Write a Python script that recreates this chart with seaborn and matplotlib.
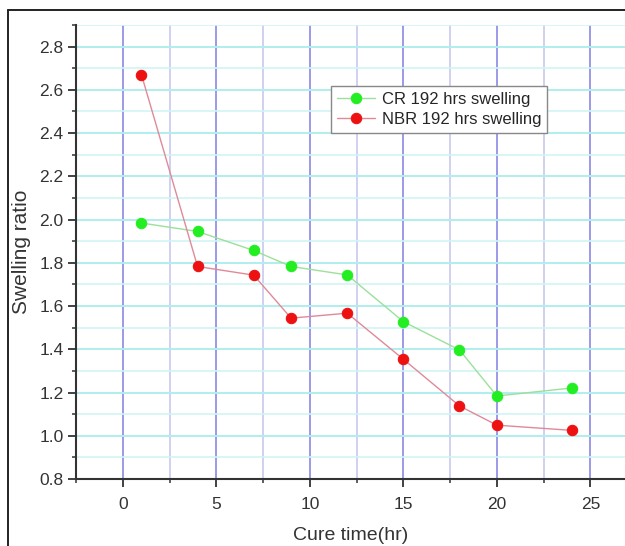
"""Swelling ratio vs cure time for CR and NBR after 192 hrs."""

import matplotlib

matplotlib.use("Agg")

import matplotlib.pyplot as plt
from matplotlib.lines import Line2D
from matplotlib.ticker import MultipleLocator
import pandas as pd
import seaborn as sns

cure_cr = [1, 4, 7, 9, 12, 15, 18, 20, 24]
swell_cr = [1.984, 1.945, 1.857, 1.783, 1.744, 1.528, 1.397, 1.184, 1.221]

cure_nbr = [1, 4, 7, 9, 12, 15, 18, 20, 24]
swell_nbr = [2.67, 1.783, 1.743, 1.544, 1.567, 1.354, 1.138, 1.049, 1.025]

label_cr = "CR 192 hrs swelling"
label_nbr = "NBR 192 hrs swelling"

df_cr = pd.DataFrame({"t": cure_cr, "s": swell_cr})
df_nbr = pd.DataFrame({"t": cure_nbr, "s": swell_nbr})

sns.set_theme(style="white")
plt.rcParams["font.family"] = ["Liberation Sans", "DejaVu Sans"]

fig = plt.figure(figsize=(6.25, 5.46), dpi=100)
ax = fig.add_axes([76 / 625, 67 / 546, 549 / 625, 454 / 546])

# notebook-paper style grid
ax.xaxis.set_major_locator(MultipleLocator(5))
ax.xaxis.set_minor_locator(MultipleLocator(2.5))
ax.yaxis.set_major_locator(MultipleLocator(0.2))
ax.yaxis.set_minor_locator(MultipleLocator(0.1))
ax.grid(which="major", axis="y", color="#b0eeee", linewidth=1.4)
ax.grid(which="minor", axis="y", color="#d2f5f5", linewidth=1.2)
ax.grid(which="major", axis="x", color="#9a9ae8", linewidth=1.4)
ax.grid(which="minor", axis="x", color="#c8c8f0", linewidth=1.2)
ax.set_axisbelow(True)

sns.lineplot(data=df_cr, x="t", y="s", ax=ax, color="#9be09b", linewidth=1.0,
             marker="o", markersize=7.5, markerfacecolor="#22ee22",
             markeredgecolor="#22ee22", label=label_cr)
sns.lineplot(data=df_nbr, x="t", y="s", ax=ax, color="#e08a98", linewidth=1.0,
             marker="o", markersize=7.5, markerfacecolor="#ee1111",
             markeredgecolor="#ee1111", label=label_nbr)

ax.set_xlim(-2.5, 26.85)
ax.set_ylim(0.8, 2.9)
ax.set_xlabel("Cure time(hr)", fontsize=14, color="#333333", labelpad=11)
ax.set_ylabel("Swelling ratio", fontsize=15, color="#333333", labelpad=6)

for side in ["top", "right"]:
    ax.spines[side].set_visible(False)
for side in ["left", "bottom"]:
    ax.spines[side].set_color("#333333")
    ax.spines[side].set_linewidth(1.5)

ax.tick_params(which="major", direction="out", length=6, width=1.3,
               color="#333333", labelsize=12.5, labelcolor="#333333",
               left=True, bottom=True)
ax.tick_params(which="minor", direction="out", length=3, width=1.1,
               color="#333333", left=True, bottom=True)
ax.tick_params(axis="x", which="major", pad=7)
ax.tick_params(axis="y", which="major", pad=3)

leg = ax.legend(loc="upper left", bbox_to_anchor=(0.4645, 0.8656),
                borderaxespad=0, fontsize=12, frameon=True, fancybox=False,
                framealpha=1, edgecolor="#888888", handlelength=2.3,
                handletextpad=0.4, borderpad=0.35, labelspacing=0.3)
leg.get_frame().set_linewidth(1.0)

# outer picture frame
fig.add_artist(Line2D([8 / 625, 8 / 625], [0, 1 - 10 / 546], color="#222222",
                      linewidth=1.4, transform=fig.transFigure))
fig.add_artist(Line2D([8 / 625, 1], [1 - 10 / 546, 1 - 10 / 546], color="#222222",
                      linewidth=1.4, transform=fig.transFigure))

fig.savefig("out.png", dpi=100)
plt.close(fig)
